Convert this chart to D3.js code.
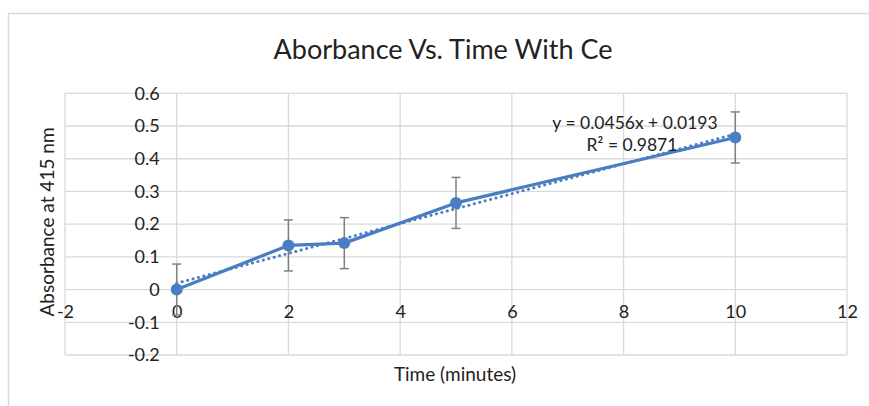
<!DOCTYPE html>
<html><head><meta charset="utf-8">
<script src="https://cdn.jsdelivr.net/npm/d3@7"></script>
<style>body{margin:0;background:#fff}svg{display:block}text{font-family:Lato,"Open Sans",sans-serif;fill:#222}</style>
</head><body><svg id="c" width="869" height="406"></svg>
<script>
const times = [0, 2, 3, 5, 10];
const absorbance = [0, 0.135, 0.142, 0.265, 0.465];
const errors = [0.078, 0.078, 0.078, 0.078, 0.078];
const xTicks = [-2, 0, 2, 4, 6, 8, 10, 12];
const yTicks = [-0.2, -0.1, 0, 0.1, 0.2, 0.3, 0.4, 0.5, 0.6];
const trendSlope = 0.0456, trendIntercept = 0.0193, rSquared = 0.9871;
const title = "Aborbance Vs. Time With Ce";
const xTitle = "Time (minutes)";
const yTitle = "Absorbance at 415 nm";

const svg = d3.select("#c");
const blue = "#4a7ec2", grid = "#d9d9d9", errCol = "#7f7f7f";
const F = "Lato";
svg.append("rect").attr("x", 8.5).attr("y", 13.5).attr("width", 900).attr("height", 500)
  .attr("fill", "#fff").attr("stroke", "#d9d9d9").attr("stroke-width", 1.5);

const x = d3.scaleLinear().domain([-2, 12]).range([65, 847]);
const y = d3.scaleLinear().domain([-0.2, 0.6]).range([355, 93.3]);

// gridlines
svg.append("g").selectAll("line").data(yTicks).join("line")
  .attr("x1", x(-2)).attr("x2", x(12)).attr("y1", d => y(d)).attr("y2", d => y(d))
  .attr("stroke", grid).attr("stroke-width", 1.3);
svg.append("g").selectAll("line").data(xTicks).join("line")
  .attr("y1", y(-0.2)).attr("y2", y(0.6)).attr("x1", d => x(d)).attr("x2", d => x(d))
  .attr("stroke", grid).attr("stroke-width", 1.3);

// y tick labels (axis crosses at x=0)
const yAxis = d3.axisLeft(y).tickValues(yTicks).tickSize(0).tickPadding(0)
  .tickFormat(d => String(+d.toFixed(1)));
const gy = svg.append("g").attr("transform", `translate(${x(0) - 17},0)`).call(yAxis);
gy.select(".domain").remove();
gy.selectAll("text").attr("font-size", 18).attr("font-family", F).attr("fill", "#222");

// x tick labels (axis crosses at y=0)
const xAxis = d3.axisBottom(x).tickValues(xTicks).tickSize(0).tickPadding(0).tickFormat(d => String(d));
const gx = svg.append("g").attr("transform", `translate(0,${y(0) + 16})`).call(xAxis);
gx.select(".domain").remove();
gx.selectAll("text").attr("font-size", 18).attr("font-family", F).attr("fill", "#222");

const data = times.map((t, i) => ({t, v: absorbance[i], e: errors[i]}));

// trendline
const trendX = [d3.min(times), d3.max(times)];
svg.append("line")
  .attr("x1", x(trendX[0])).attr("y1", y(trendSlope * trendX[0] + trendIntercept))
  .attr("x2", x(trendX[1])).attr("y2", y(trendSlope * trendX[1] + trendIntercept))
  .attr("stroke", blue).attr("stroke-width", 3).attr("stroke-dasharray", "0.1 5.5")
  .attr("stroke-linecap", "round");

// error bars
const eb = svg.append("g").attr("stroke", errCol).attr("stroke-width", 1.5);
data.forEach(d => {
  eb.append("line").attr("x1", x(d.t)).attr("x2", x(d.t)).attr("y1", y(d.v + d.e)).attr("y2", y(d.v - d.e));
  eb.append("line").attr("x1", x(d.t) - 4.5).attr("x2", x(d.t) + 4.5).attr("y1", y(d.v + d.e)).attr("y2", y(d.v + d.e));
  eb.append("line").attr("x1", x(d.t) - 4.5).attr("x2", x(d.t) + 4.5).attr("y1", y(d.v - d.e)).attr("y2", y(d.v - d.e));
});

// data line and markers
svg.append("path").datum(data)
  .attr("d", d3.line().x(d => x(d.t)).y(d => y(d.v)))
  .attr("fill", "none").attr("stroke", blue).attr("stroke-width", 3.2).attr("stroke-linejoin", "round");
svg.append("g").selectAll("circle").data(data).join("circle")
  .attr("cx", d => x(d.t)).attr("cy", d => y(d.v)).attr("r", 6).attr("fill", blue);

// trendline label
svg.append("text").attr("x", 635).attr("y", 129).attr("text-anchor", "middle").attr("font-size", 17.5)
  .text(`y = ${trendSlope}x + ${trendIntercept}`);
svg.append("text").attr("x", 632).attr("y", 151).attr("text-anchor", "middle").attr("font-size", 17.5)
  .text("R² = " + rSquared);

// titles
svg.append("text").attr("x", 443).attr("y", 59).attr("text-anchor", "middle").attr("font-size", 27)
  .text(title);
svg.append("text").attr("x", 455).attr("y", 381).attr("text-anchor", "middle").attr("font-size", 19)
  .text(xTitle);
svg.append("text").attr("transform", "translate(54,222) rotate(-90)").attr("text-anchor", "middle").attr("font-size", 19)
  .text(yTitle);
</script></body></html>
